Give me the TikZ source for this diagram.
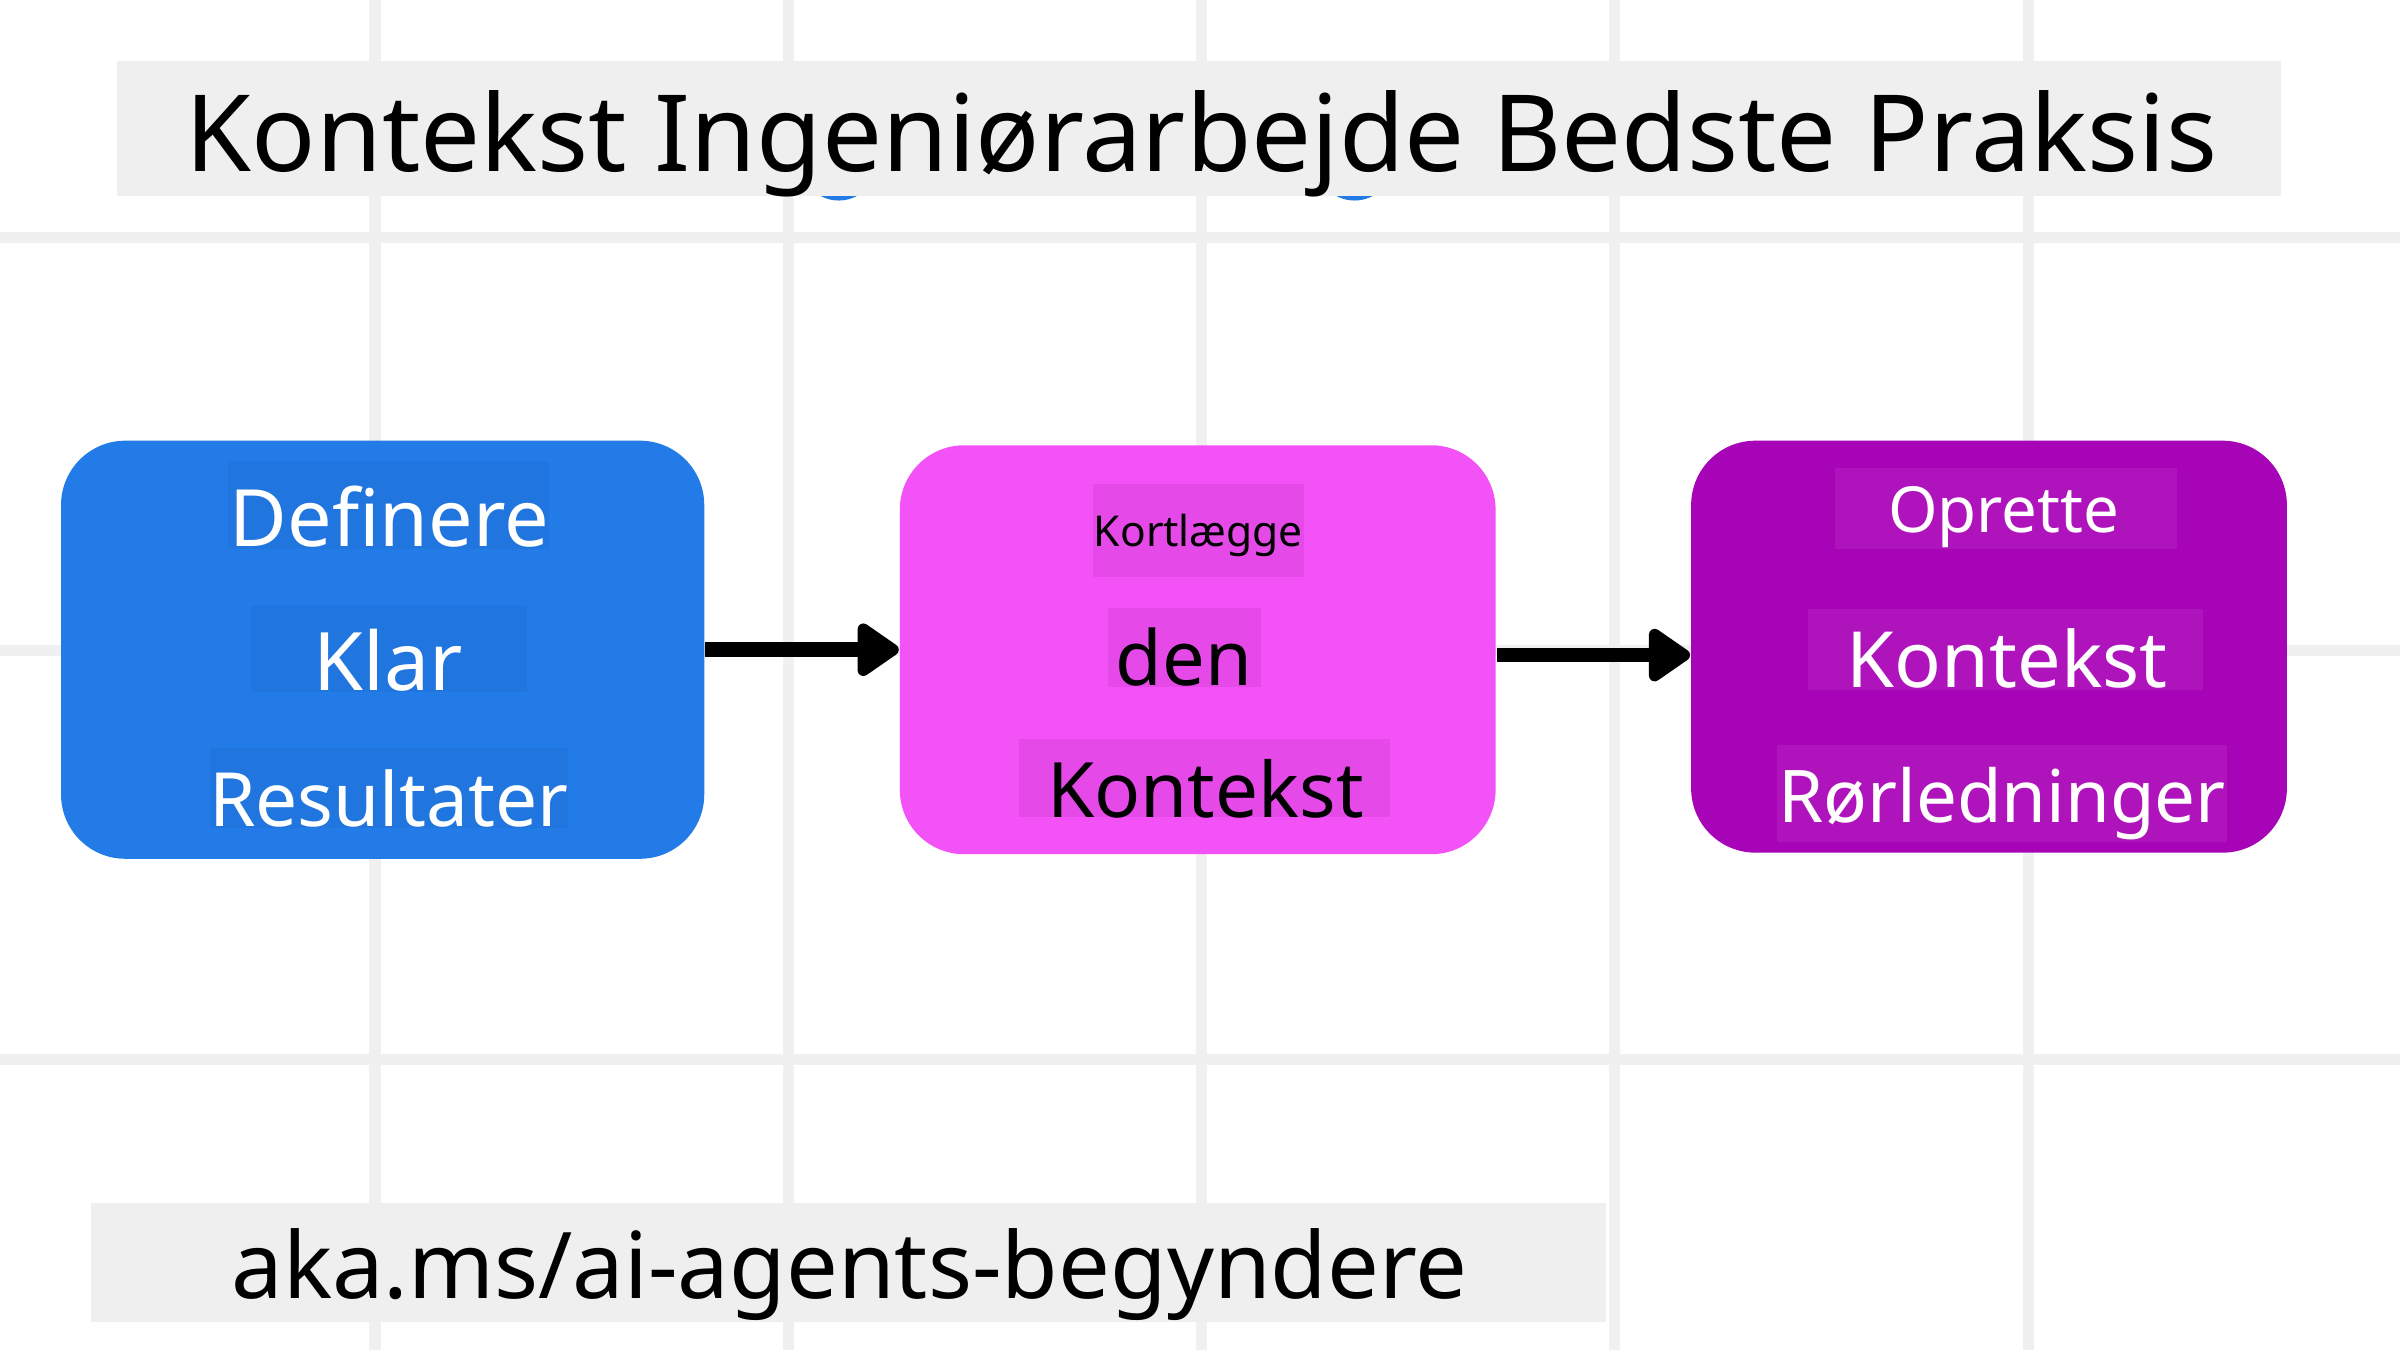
\documentclass[tikz,border=0pt]{standalone}
\usepackage{fontspec}
\setmainfont{Noto Sans}
\usetikzlibrary{arrows.meta}
\definecolor{gridgray}{HTML}{F0F0F0}
\definecolor{bargray}{HTML}{EFEFEF}
\definecolor{stepblue}{HTML}{227BE7}
\definecolor{stepbluehl}{HTML}{2075DF}
\definecolor{steppink}{HTML}{F252F6}
\definecolor{steppinkhl}{HTML}{E54AE9}
\definecolor{steppurple}{HTML}{A704B8}
\definecolor{steppurplehl}{HTML}{AF14BC}
\begin{document}
\begin{tikzpicture}[x=0.01cm,y=-0.01cm,line join=round,line cap=round,>={Triangle[length=0.3cm,width=0.39cm,round]}]
	\tikzset{stepbox/.style={rounded corners=0.42cm,inner sep=0pt},
		bar/.style={fill=bargray,inner sep=0pt},
		flow/.style={->,line width=0.096cm,line cap=butt}}
	\useasboundingbox (0,0) rectangle (1568,882);
	\fill[white] (0,0) rectangle (1568,882);
	\foreach \x in {245,515,785,1055,1325}
	\draw[gridgray,line width=0.072cm,line cap=butt] (\x,0)--(\x,882);
	\foreach \y in {155,425,692}
	\draw[gridgray,line width=0.072cm,line cap=butt] (0,\y)--(1568,\y);
	\foreach \x in {548,885}
	\fill[stepblue] (\x,106) circle (0.25cm);
	\node[bar,minimum width=14.13cm,minimum height=0.88cm] (titlebar) at (783.5,84) {};
	\node[anchor=base,font=\fontsize{19.8}{24}\selectfont] (title) at (785,112) {Kontekst Ingeniørarbejde Bedste Praksis};
	\node[stepbox,fill=stepblue,minimum width=4.2cm,minimum height=2.73cm] (define) at (250,424.5) {};
	\node[stepbox,fill=steppink,minimum width=3.89cm,minimum height=2.67cm] (map) at (782.5,424.5) {};
	\node[stepbox,fill=steppurple,minimum width=3.89cm,minimum height=2.69cm] (build) at (1299.5,422.5) {};
	\foreach \xa/\ya/\xb/\yb/\cx/\by/\fs/\hl/\tc/\nm/\txt in {
		149/302/359/359/254.5/357/14.7/stepbluehl/white/define1/Definere,
		164/396/344/452/253.5/451/15/stepbluehl/white/define2/Klar,
		137/489/371/541/254/540/13.9/stepbluehl/white/define3/Resultater,
		714/316/852/377/783/357/7.9/steppinkhl/black/map1/Kortlægge,
		724/397/824/449/773.5/448/14.1/steppinkhl/black/map2/den,
		666/483/908/534/787.5/534/14.2/steppinkhl/black/map3/Kontekst,
		1199/306/1422/359/1309/348/11.8/steppurplehl/white/build1/Oprette,
		1181/398/1439/451/1311.5/449/14.4/steppurplehl/white/build2/Kontekst,
		1161/487/1455/550/1308/537.5/13.5/steppurplehl/white/build3/Rørledninger}
	{
		\fill[\hl] (\xa,\ya) rectangle (\xb,\yb);
		\node[anchor=base,text=\tc,font=\fontsize{\fs}{\fs}\selectfont] (\nm) at (\cx,\by) {\txt};
	}
	\draw[flow] (define.east) -- (map.west);
	\draw[flow] ([yshift=-0.035cm]map.east) -- ([yshift=-0.035cm]map.east -| build.west);
	\node[bar,minimum width=9.89cm,minimum height=0.78cm] (linkbar) at (554.5,825) {};
	\node[anchor=base,font=\fontsize{17.1}{20}\selectfont] (link) at (555,848.5) {aka.ms/ai-agents-begyndere};
\end{tikzpicture}
\end{document}
